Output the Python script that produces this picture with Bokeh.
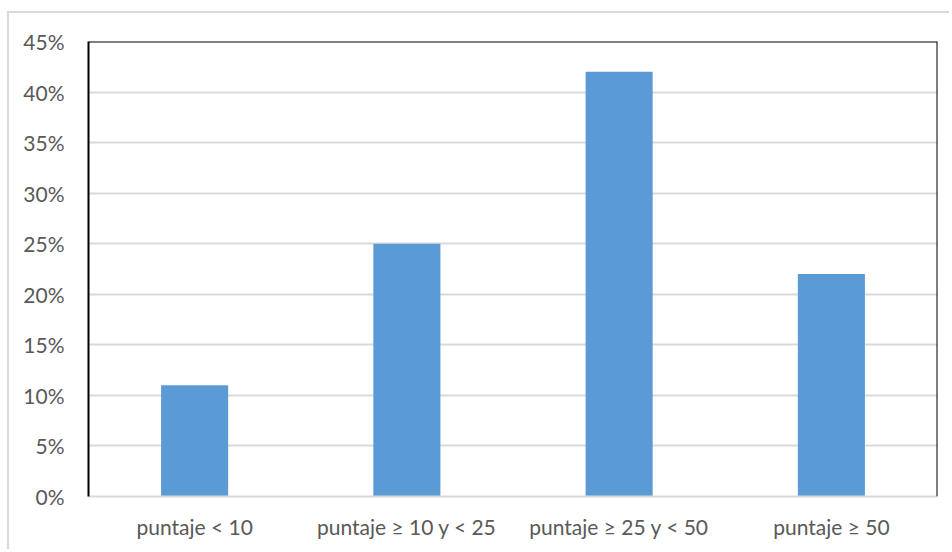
from bokeh.plotting import figure
from bokeh.models import Span, NumeralTickFormatter, FixedTicker
from bokeh.embed import file_html
from bokeh.resources import INLINE

categories = ["puntaje < 10", "puntaje ≥ 10 y < 25", "puntaje ≥ 25 y < 50", "puntaje ≥ 50"]
values = [0.11, 0.25, 0.42, 0.22]
y_ticks = [0, 0.05, 0.10, 0.15, 0.20, 0.25, 0.30, 0.35, 0.40, 0.45]

p = figure(x_range=categories, y_range=(0, 0.45), width=942, height=538,
           output_backend="svg", toolbar_location=None,
           min_border_left=79, min_border_right=14, min_border_top=28, min_border_bottom=55,
           margin=(11, 0, 0, 7))
p.styles = {"border-left": "2px solid #d9d9d9", "border-top": "2px solid #d9d9d9"}
p.x_range.range_padding = 0
p.outline_line_color = None

p.vbar(x=categories, top=values, width=0.316, color="#5B9BD5", line_color=None)

p.yaxis.ticker = FixedTicker(ticks=y_ticks)
p.yaxis.formatter = NumeralTickFormatter(format="0%")
p.ygrid.ticker = FixedTicker(ticks=y_ticks)
p.ygrid.grid_line_color = "#d9d9d9"
p.ygrid.grid_line_width = 2
p.xgrid.grid_line_color = None

for ax in (p.xaxis[0], p.yaxis[0]):
    ax.major_tick_line_color = None
    ax.minor_tick_line_color = None
    ax.major_label_text_font = "Lato"
    ax.major_label_text_font_size = "21px"
    ax.major_label_text_color = "#595959"
p.yaxis.major_label_standoff = 18
p.xaxis.major_label_standoff = 11
p.yaxis.axis_line_color = "black"
p.yaxis.axis_line_width = 2
p.xaxis.axis_line_color = "#d9d9d9"
p.xaxis.axis_line_width = 2

p.add_layout(Span(location=4, dimension="height", line_color="black", line_width=2))
p.add_layout(Span(location=0.45, dimension="width", line_color="black", line_width=2))

open("out.html", "w").write(file_html(p, INLINE))
